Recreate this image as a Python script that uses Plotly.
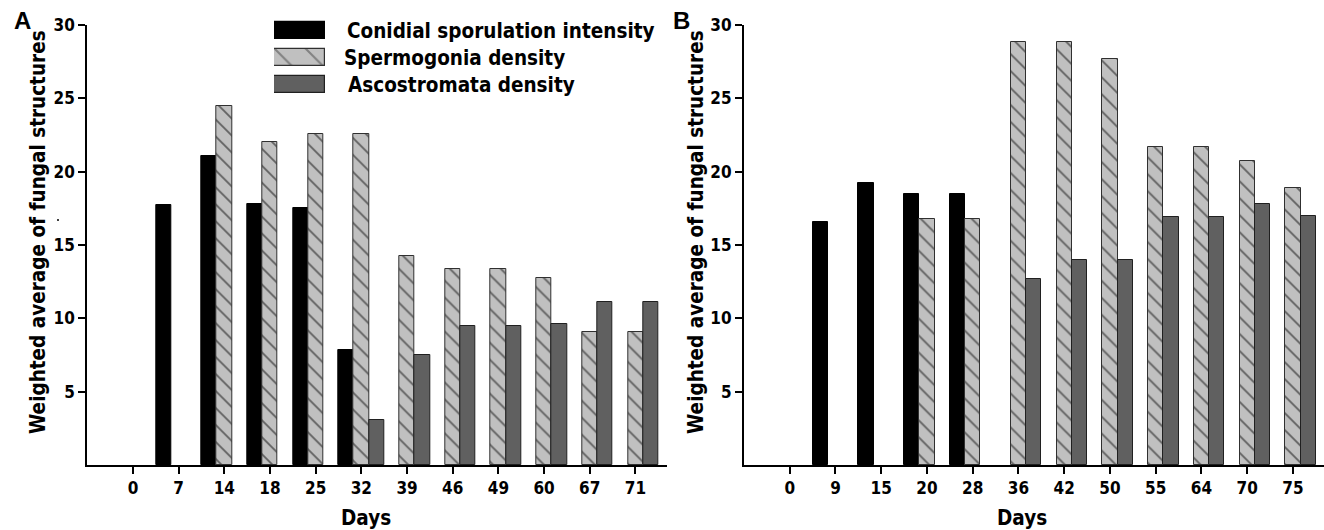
import plotly.graph_objects as go

W, H = 1324, 530

# ---------------- data ----------------
days_a = ["0", "7", "14", "18", "25", "32", "39", "46", "49", "60", "67", "71"]
conidial_a = [None, 17.7, 21.1, 17.8, 17.5, 7.85, None, None, None, None, None, None]
spermogonia_a = [None, None, 24.5, 22.0, 22.6, 22.6, 14.25, 13.35, 13.35, 12.75, 9.1, 9.1]
ascostromata_a = [None, None, None, None, None, 3.1, 7.5, 9.5, 9.5, 9.6, 11.1, 11.1]

days_b = ["0", "9", "15", "20", "28", "36", "42", "50", "55", "64", "70", "75"]
conidial_b = [None, 16.6, 19.2, 18.45, 18.45, None, None, None, None, None, None, None]
spermogonia_b = [None, None, None, 16.8, 16.8, 28.85, 28.85, 27.7, 21.7, 21.7, 20.7, 18.9]
ascostromata_b = [None, None, None, None, None, 12.65, 13.95, 13.95, 16.9, 16.9, 17.8, 17.0]

series_names = ["Conidial sporulation intensity", "Spermogonia density", "Ascostromata density"]
legend_len = [1, 1, 1]

y_ticks = [5, 10, 15, 20, 25, 30]
y_title = "Weighted average of fungal structures"
x_title = "Days"

# ---------------- styles ----------------
FONT = "Liberation Sans Narrow, Arial Narrow, DejaVu Sans Condensed, Liberation Sans, Arial, sans-serif"
BLACK = "#000000"
LIGHT = "#c0c0c0"
DARK = "#606060"


def px_x(p):
    return p / W


def px_y(p):
    return 1 - p / H


fig = go.Figure()

styles = [
    dict(color=BLACK, line=dict(color=BLACK, width=1)),
    dict(color=LIGHT, line=dict(color="#303030", width=1),
         pattern=dict(shape="\\", fgcolor=BLACK, bgcolor=LIGHT, size=12, solidity=0.15)),
    dict(color=DARK, line=dict(color="#202020", width=1)),
]

for (xa, ya, days, vals) in [
    ("x", "y", days_a, [conidial_a, spermogonia_a, ascostromata_a]),
    ("x2", "y2", days_b, [conidial_b, spermogonia_b, ascostromata_b]),
]:
    for name, v, st in zip(series_names, vals, styles):
        fig.add_trace(go.Bar(x=days, y=v, name=name, marker=st, xaxis=xa, yaxis=ya,
                             showlegend=False, hoverinfo="x+y+name"))

# custom legend swatches as horizontal bars on a hidden axis
fig.add_trace(go.Bar(
    y=series_names, x=legend_len, orientation="h", xaxis="x3", yaxis="y3",
    width=0.65, showlegend=False, hoverinfo="skip",
    marker=dict(
        color=[BLACK, LIGHT, DARK],
        line=dict(color=["#000000", "#303030", "#202020"], width=1.2),
        pattern=dict(shape=["", "\\", ""], fgcolor=BLACK, bgcolor=[BLACK, LIGHT, DARK],
                     size=22, solidity=0.1),
    ),
))

plot_top, plot_bot = 25, 465
ydom = [px_y(plot_bot), px_y(plot_top)]

xaxis_common = dict(
    type="category", range=[-1, 11.68], showline=True, linecolor="black", linewidth=2,
    ticks="outside", ticklen=7, tickwidth=1.5, tickcolor="black", showgrid=False,
    zeroline=False,
    tickfont=dict(family=FONT, size=17, color="black", weight="bold"),
)
yaxis_common = dict(
    range=[0, 30], tickvals=y_ticks, showline=True, linecolor="black", linewidth=2,
    ticks="outside", ticklen=7, tickwidth=1.5, tickcolor="black", showgrid=False,
    zeroline=False,
    tickfont=dict(family=FONT, size=17, color="black", weight="bold"),
)

leg_top, leg_bot = 17.0, 98.2

fig.update_layout(
    width=W, height=H,
    margin=dict(l=0, r=0, t=0, b=0, autoexpand=False),
    paper_bgcolor="white", plot_bgcolor="white",
    barmode="group", bargap=0, bargroupgap=0,
    showlegend=False,
    xaxis=dict(domain=[px_x(87.3), px_x(666.5)], anchor="y",
               categoryorder="array", categoryarray=days_a, **xaxis_common),
    yaxis=dict(domain=ydom, anchor="x", **yaxis_common),
    xaxis2=dict(domain=[px_x(744), 1.0], anchor="y2",
                categoryorder="array", categoryarray=days_b, **xaxis_common),
    yaxis2=dict(domain=ydom, anchor="x2", **yaxis_common),
    xaxis3=dict(domain=[px_x(274), px_x(325)], anchor="y3", range=[0, 1],
                visible=False, fixedrange=True),
    yaxis3=dict(domain=[px_y(leg_bot), px_y(leg_top)], anchor="x3",
                type="category", categoryorder="array", categoryarray=series_names[::-1],
                range=[-0.5, 2.5], visible=False, fixedrange=True),
)

LABEL_SIZE = 20.5
ann = []
# legend texts
leg_rows = [30.5, 57.5, 84.7]
leg_x = [345, 342, 346]
for name, yy, xx in zip(series_names, leg_rows, leg_x):
    ann.append(dict(text=name, x=px_x(xx), y=px_y(yy), xref="paper", yref="paper",
                    xanchor="left", yanchor="middle", showarrow=False,
                    font=dict(family=FONT, size=LABEL_SIZE, color="black", weight="bold")))
# y titles
for xc in [38, 696]:
    ann.append(dict(text=y_title, x=px_x(xc), y=px_y(232), xref="paper", yref="paper",
                    xanchor="center", yanchor="middle", textangle=-90, showarrow=False,
                    font=dict(family=FONT, size=LABEL_SIZE, color="black", weight="bold")))
# x titles
for xc in [366, 1022]:
    ann.append(dict(text=x_title, x=px_x(xc), y=px_y(518), xref="paper", yref="paper",
                    xanchor="center", yanchor="middle", showarrow=False,
                    font=dict(family=FONT, size=LABEL_SIZE, color="black", weight="bold")))
# panel letters
for txt, xc in [("A", 22), ("B", 681)]:
    ann.append(dict(text=txt, x=px_x(xc), y=px_y(21), xref="paper", yref="paper",
                    xanchor="center", yanchor="middle", showarrow=False,
                    font=dict(family="Liberation Sans, Arial, sans-serif", size=24,
                              color="black", weight="bold")))
fig.update_layout(annotations=ann)

# tiny stray dot present in the reference
fig.add_shape(type="circle", xref="paper", yref="paper",
              x0=px_x(57), x1=px_x(59), y0=px_y(221), y1=px_y(219),
              fillcolor="black", line=dict(width=0))

fig.write_html(
    "out.html",
    config={"displayModeBar": False},
    post_script="document.body.style.margin='0';document.body.style.overflow='hidden';",
)
